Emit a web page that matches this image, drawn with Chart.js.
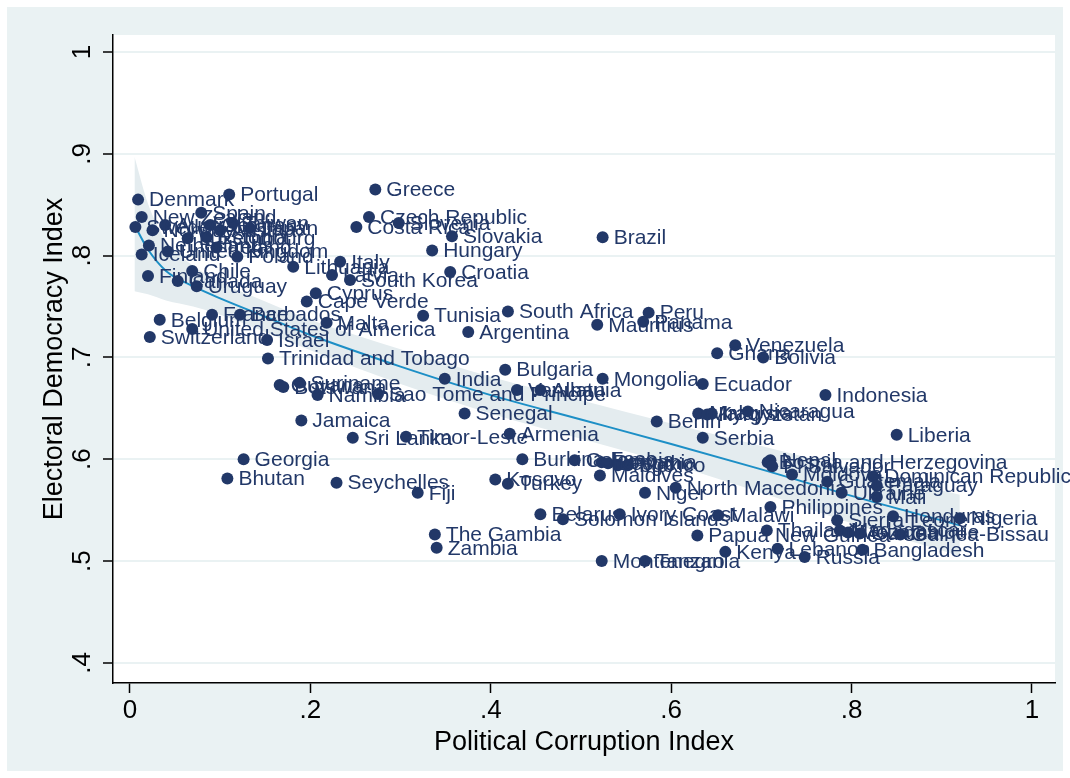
<!DOCTYPE html>
<html>
<head>
<meta charset="utf-8">
<script src="https://cdn.jsdelivr.net/npm/chart.js@4.4.1/dist/chart.umd.min.js"></script>
<style>
  html, body { margin: 0; padding: 0; background: #ffffff; }
  canvas { display: block; }
</style>
</head>
<body>
<canvas id="chart" width="1070" height="778"></canvas>
<script>
// Countries with their Political Corruption Index and Electoral Democracy Index
const countries = [
  "Denmark", "Portugal", "Greece", "New Zealand", "Spain", "Sweden", "Norway", "Australia", "Germany", "Taiwan",
  "Japan", "Austria", "Luxembourg", "Estonia", "Netherlands", "United Kingdom", "Ireland", "Iceland", "Canada", "Finland",
  "Poland", "Slovenia", "Czech Republic", "Costa Rica", "Slovakia", "Hungary", "Croatia", "Italy", "Lithuania", "Latvia",
  "South Korea", "Chile", "Uruguay", "Cyprus", "Cape Verde", "Brazil", "France", "Barbados", "Belgium", "United States of America",
  "Switzerland", "Malta", "Israel", "Tunisia", "South Africa", "Argentina", "Mauritius", "Peru", "Panama", "Trinidad and Tobago",
  "Venezuela", "Ghana", "Bolivia", "Bulgaria", "India", "Mongolia", "Ecuador", "Guyana", "Botswana", "Suriname",
  "Namibia", "Sao Tome and Principe", "Vanuatu", "Albania", "Jamaica", "Sri Lanka", "Timor-Leste", "Senegal", "Armenia", "Georgia",
  "Bhutan", "Seychelles", "Fiji", "Burkina Faso", "Colombia", "Romania", "Lesotho", "Togo", "Mexico", "Maldives",
  "Kosovo", "Turkey", "Niger", "North Macedonia", "Belarus", "Solomon Islands", "Ivory Coast", "Malawi", "The Gambia", "Zambia",
  "Montenegro", "Tanzania", "Benin", "Serbia", "Malaysia", "Kyrgyzstan", "Iraq", "Nicaragua", "Indonesia", "Liberia",
  "Bosnia and Herzegovina", "Nepal", "El Salvador", "Moldova", "Guatemala", "Dominican Republic", "Paraguay", "Ukraine", "Mali", "Philippines",
  "Sierra Leone", "Honduras", "Nigeria", "Thailand", "Madagascar", "Mozambique", "Guinea", "Guinea-Bissau", "Papua New Guinea", "Kenya",
  "Lebanon", "Russia", "Bangladesh"
];

const corruption = [
  0.009, 0.110, 0.272, 0.013, 0.079, 0.006, 0.025, 0.039, 0.089, 0.114,
  0.133, 0.100, 0.064, 0.085, 0.021, 0.042, 0.096, 0.013, 0.053, 0.020,
  0.119, 0.298, 0.265, 0.251, 0.357, 0.335, 0.355, 0.233, 0.181, 0.224,
  0.244, 0.069, 0.074, 0.206, 0.196, 0.524, 0.091, 0.122, 0.033, 0.069,
  0.022, 0.218, 0.152, 0.325, 0.419, 0.375, 0.518, 0.575, 0.569, 0.153,
  0.671, 0.651, 0.702, 0.416, 0.349, 0.524, 0.635, 0.166, 0.170, 0.188,
  0.208, 0.275, 0.429, 0.455, 0.190, 0.247, 0.306, 0.371, 0.421, 0.126,
  0.108, 0.229, 0.319, 0.435, 0.493, 0.523, 0.530, 0.541, 0.552, 0.521,
  0.405, 0.419, 0.571, 0.605, 0.455, 0.480, 0.543, 0.652, 0.338, 0.340,
  0.523, 0.571, 0.584, 0.635, 0.630, 0.640, 0.645, 0.685, 0.771, 0.850,
  0.707, 0.710, 0.712, 0.734, 0.773, 0.824, 0.828, 0.789, 0.828, 0.710,
  0.784, 0.846, 0.920, 0.706, 0.787, 0.796, 0.809, 0.854, 0.629, 0.660,
  0.718, 0.748, 0.812
];

const democracy = [
  0.855, 0.860, 0.865, 0.838, 0.842, 0.828, 0.825, 0.830, 0.830, 0.832,
  0.827, 0.825, 0.817, 0.818, 0.810, 0.804, 0.808, 0.801, 0.775, 0.780,
  0.799, 0.832, 0.838, 0.828, 0.819, 0.805, 0.784, 0.794, 0.789, 0.781,
  0.776, 0.785, 0.770, 0.763, 0.755, 0.818, 0.742, 0.742, 0.737, 0.728,
  0.720, 0.734, 0.717, 0.741, 0.745, 0.725, 0.732, 0.744, 0.735, 0.699,
  0.712, 0.704, 0.700, 0.688, 0.679, 0.679, 0.674, 0.673, 0.671, 0.675,
  0.663, 0.664, 0.668, 0.668, 0.638, 0.621, 0.622, 0.645, 0.625, 0.600,
  0.581, 0.577, 0.567, 0.600, 0.599, 0.597, 0.596, 0.594, 0.594, 0.584,
  0.580, 0.576, 0.567, 0.572, 0.546, 0.541, 0.546, 0.545, 0.526, 0.513,
  0.500, 0.500, 0.637, 0.621, 0.645, 0.644, 0.645, 0.647, 0.663, 0.624,
  0.597, 0.599, 0.593, 0.585, 0.578, 0.583, 0.574, 0.567, 0.563, 0.553,
  0.540, 0.544, 0.542, 0.530, 0.530, 0.528, 0.527, 0.526, 0.525, 0.509,
  0.512, 0.504, 0.511
];

// Fitted curve with its 95% confidence band
const fitX   = [0.005, 0.02, 0.04, 0.07, 0.10, 0.15, 0.20, 0.30, 0.40, 0.50, 0.60, 0.70, 0.80, 0.92];
const fitY   = [0.830, 0.806, 0.785, 0.770, 0.758, 0.740, 0.722, 0.691, 0.663, 0.639, 0.615, 0.590, 0.564, 0.535];
const ciHigh = [0.897, 0.851, 0.815, 0.790, 0.774, 0.755, 0.737, 0.708, 0.681, 0.658, 0.635, 0.613, 0.591, 0.565];
const ciLow  = [0.765, 0.762, 0.756, 0.750, 0.742, 0.725, 0.707, 0.674, 0.645, 0.620, 0.595, 0.567, 0.537, 0.505];

// Axis ticks
const xTicks = [0, 0.2, 0.4, 0.6, 0.8, 1];
const xTickLabels = ["0", ".2", ".4", ".6", ".8", "1"];
const yTicks = [0.4, 0.5, 0.6, 0.7, 0.8, 0.9, 1];
const yTickLabels = [".4", ".5", ".6", ".7", ".8", ".9", "1"];

const xTitle = "Political Corruption Index";
const yTitle = "Electoral Democracy Index";

const NAVY = "#223868";
const LINE_BLUE = "#1d8fc6";
const BAND = "#e4ecef";
const FRAME_BG = "#eaf2f3";
const FONT = '"Liberation Sans", Arial, Helvetica, sans-serif';

const toPts = (xs, ys) => xs.map((x, i) => ({ x: x, y: ys[i] }));

// Light frame around a white plot region
const backdrop = {
  id: "backdrop",
  beforeDraw(chart) {
    const { ctx, chartArea: a, width, height } = chart;
    ctx.save();
    ctx.fillStyle = "#ffffff";
    ctx.fillRect(0, 0, width, height);
    ctx.fillStyle = FRAME_BG;
    ctx.fillRect(7, 7, width - 14, height - 14);
    ctx.fillStyle = "#ffffff";
    ctx.fillRect(a.left, a.top, a.right - a.left, a.bottom - a.top);
    ctx.restore();
  }
};

// Country names beside their markers
const markerLabels = {
  id: "markerLabels",
  afterDatasetsDraw(chart) {
    const meta = chart.getDatasetMeta(3);
    const ctx = chart.ctx;
    ctx.save();
    ctx.font = "21px " + FONT;
    ctx.fillStyle = NAVY;
    ctx.textBaseline = "middle";
    ctx.textAlign = "left";
    meta.data.forEach((el, i) => {
      ctx.fillText(countries[i], el.x + 11, el.y + 1);
    });
    ctx.restore();
  }
};

// Vertical y tick labels and both axis titles
const axisText = {
  id: "axisText",
  afterDraw(chart) {
    const { ctx, chartArea: a } = chart;
    const ys = chart.scales.y;
    ctx.save();
    ctx.fillStyle = "#000000";
    ctx.font = "26px " + FONT;
    ctx.textAlign = "center";
    ctx.textBaseline = "alphabetic";
    yTicks.forEach((v, i) => {
      const py = ys.getPixelForValue(v);
      ctx.save();
      ctx.translate(90, py);
      ctx.rotate(-Math.PI / 2);
      ctx.fillText(yTickLabels[i], 0, 0);
      ctx.restore();
    });
    ctx.font = "27px " + FONT;
    ctx.fillText(xTitle, (a.left + a.right) / 2, 750);
    ctx.save();
    ctx.translate(62, (a.top + a.bottom) / 2);
    ctx.rotate(-Math.PI / 2);
    ctx.fillText(yTitle, 0, 0);
    ctx.restore();
    ctx.restore();
  }
};

new Chart(document.getElementById("chart"), {
  type: "scatter",
  data: {
    datasets: [
      {
        type: "line",
        data: toPts(fitX, ciLow),
        showLine: true,
        borderWidth: 0,
        borderColor: "rgba(0,0,0,0)",
        pointRadius: 0,
        fill: false,
        cubicInterpolationMode: "monotone",
        order: 3
      },
      {
        type: "line",
        data: toPts(fitX, ciHigh),
        showLine: true,
        borderWidth: 0,
        borderColor: "rgba(0,0,0,0)",
        backgroundColor: BAND,
        pointRadius: 0,
        fill: "-1",
        cubicInterpolationMode: "monotone",
        order: 2
      },
      {
        type: "line",
        data: toPts(fitX, fitY),
        showLine: true,
        borderColor: LINE_BLUE,
        borderWidth: 2,
        pointRadius: 0,
        fill: false,
        cubicInterpolationMode: "monotone",
        order: 1
      },
      {
        type: "scatter",
        data: toPts(corruption, democracy),
        pointRadius: 6,
        backgroundColor: NAVY,
        borderWidth: 0,
        order: 0
      }
    ]
  },
  options: {
    responsive: false,
    animation: false,
    devicePixelRatio: 1,
    events: [],
    layout: { padding: { top: 35, right: 15, left: 0, bottom: 0 } },
    plugins: { legend: { display: false }, tooltip: { enabled: false } },
    scales: {
      x: {
        type: "linear",
        min: -0.0188,
        max: 1.0255,
        afterBuildTicks: (s) => { s.ticks = xTicks.map((v) => ({ value: v })); },
        afterFit: (s) => { s.height = 95; },
        ticks: {
          callback: (v, i) => xTickLabels[i],
          font: { size: 26, family: FONT },
          color: "#000000",
          padding: 2,
          maxRotation: 0,
          autoSkip: false
        },
        grid: { drawOnChartArea: false, drawTicks: true, tickLength: 10, tickColor: "#000000", tickWidth: 1.5 },
        border: { display: true, color: "#000000", width: 1.5 }
      },
      y: {
        type: "linear",
        min: 0.3802,
        max: 1.0167,
        afterBuildTicks: (s) => { s.ticks = yTicks.map((v) => ({ value: v })); },
        afterFit: (s) => { s.width = 113; },
        ticks: { display: false },
        grid: { color: FRAME_BG, lineWidth: 2, drawTicks: true, tickLength: 10, tickColor: "#000000", tickWidth: 1.5 },
        border: { display: true, color: "#000000", width: 1.5 }
      }
    }
  },
  plugins: [backdrop, markerLabels, axisText]
});
</script>
</body>
</html>
